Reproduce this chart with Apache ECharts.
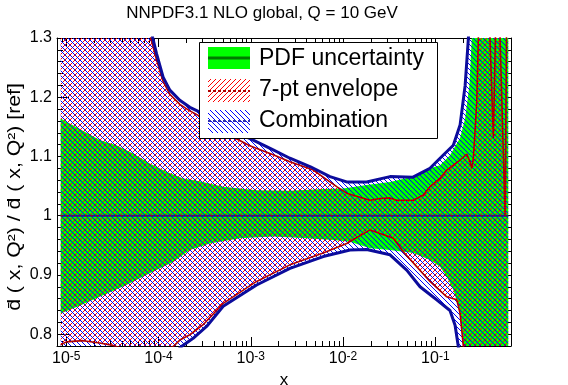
<!DOCTYPE html>
<html>
<head>
<meta charset="utf-8">
<script src="https://cdn.jsdelivr.net/npm/echarts@6/dist/echarts.min.js"></script>
<style>html,body{margin:0;padding:0;background:#fff}#c{width:568px;height:385px}</style>
</head>
<body>
<div id="c"></div>
<script>
// ---- data (x stored as log10(x)) ----
const titleText = 'NNPDF3.1 NLO global, Q = 10 GeV';
const legendLabels = ['PDF uncertainty', '7-pt envelope', 'Combination'];
const xTickExponents = [-5, -4, -3, -2, -1];
const yTickValues = [0.8, 0.9, 1.0, 1.1, 1.2, 1.3];

const pdfUpperX = [-5.06,-4.637,-4.456,-4.275,-4.094,-3.913,-3.733,-3.552,-3.299,-2.937,-2.576,-2.215,-1.998,-1.744,-1.491,-1.239,-1.058,-0.949,-0.841,-0.732,-0.677,-0.631,-0.605,-0.580,-0.21];
const pdfUpperY = [1.164,1.128,1.119,1.105,1.088,1.074,1.063,1.058,1.049,1.043,1.042,1.045,1.046,1.052,1.057,1.066,1.080,1.085,1.102,1.131,1.164,1.220,1.299,1.40,1.60];
const pdfLowerX = [-5.06,-4.854,-4.637,-4.348,-4.094,-3.842,-3.660,-3.443,-3.118,-2.757,-2.395,-2.106,-1.925,-1.708,-1.491,-1.239,-1.058,-0.949,-0.876,-0.805,-0.751,-0.714,-0.696,-0.667,-0.21];
const pdfLowerY = [0.835,0.848,0.863,0.883,0.903,0.922,0.942,0.953,0.962,0.965,0.962,0.959,0.956,0.945,0.942,0.937,0.925,0.914,0.897,0.875,0.847,0.813,0.779,0.70,0.40];

const envUpperX = [-5.06,-4.203,-4.084,-4.030,-3.954,-3.877,-3.769,-3.660,-3.552,-3.281,-3.010,-2.757,-2.576,-2.323,-2.069,-1.961,-1.708,-1.600,-1.491,-1.419,-1.239,-1.130,-1.058,-0.949,-0.876,-0.732,-0.659,-0.624,-0.605,-0.588,-0.551,-0.534,-0.516,-0.412,-0.371,-0.347,-0.304,-0.244,-0.228,-0.21];
const envUpperY = [1.50,1.40,1.30,1.268,1.228,1.205,1.188,1.177,1.168,1.140,1.118,1.103,1.091,1.077,1.049,1.038,1.026,1.029,1.030,1.026,1.026,1.035,1.049,1.063,1.077,1.094,1.104,1.091,1.080,1.097,1.192,1.30,1.38,1.32,1.131,1.32,1.33,1.00,1.32,1.35];
const envLowerX = [-5.06,-4.998,-4.818,-4.637,-4.492,-4.365,-3.986,-3.842,-3.769,-3.660,-3.516,-3.299,-2.937,-2.576,-2.215,-1.961,-1.708,-1.600,-1.456,-1.347,-1.202,-1.058,-0.876,-0.768,-0.732,-0.696,-0.667,-0.21];
const envLowerY = [0.782,0.787,0.789,0.785,0.781,0.774,0.772,0.779,0.790,0.799,0.816,0.852,0.889,0.917,0.937,0.953,0.976,0.970,0.962,0.939,0.914,0.889,0.863,0.858,0.835,0.779,0.70,0.60];

const combUpperX = [-5.06,-4.203,-4.062,-4.022,-3.950,-3.877,-3.769,-3.660,-3.552,-3.281,-2.991,-2.757,-2.576,-2.359,-2.142,-1.961,-1.744,-1.491,-1.242,-1.058,-0.916,-0.805,-0.732,-0.677,-0.642,-0.624,-0.21];
const combUpperY = [1.50,1.42,1.30,1.274,1.234,1.212,1.195,1.183,1.175,1.150,1.129,1.111,1.097,1.083,1.066,1.057,1.057,1.066,1.065,1.080,1.102,1.119,1.153,1.220,1.299,1.35,1.60];
const combLowerX = [-5.06,-3.877,-3.751,-3.625,-3.479,-3.299,-2.937,-2.576,-2.215,-1.925,-1.744,-1.491,-1.310,-1.166,-0.985,-0.841,-0.786,-0.751,-0.710,-0.21];
const combLowerY = [0.60,0.76,0.779,0.793,0.813,0.847,0.883,0.911,0.931,0.942,0.943,0.934,0.908,0.880,0.858,0.840,0.815,0.779,0.70,0.50];

const centralX = [-5.06, -0.21];
const centralY = [1.0, 1.0];

// ---- hatch patterns (1px diagonal lines) ----
function hatch(color, dir, p) {
  const c = document.createElement('canvas');
  c.width = p; c.height = p;
  const g = c.getContext('2d');
  g.fillStyle = color;
  for (let i = 0; i < p; i++) {
    g.fillRect(i, dir === '/' ? p - 1 - i : i, 1, 1);
  }
  return c;
}
const HP = 5;
const redHatch = { image: hatch('#ff0000', '/', HP), repeat: 'repeat' };
const blueHatch = { image: hatch('#0000ff', '\\', HP), repeat: 'repeat' };
const GREEN = '#00ff00';

const zip = (xs, ys) => xs.map((x, i) => [x, ys[i]]);

function bandSeries(name, ux, uy, lx, ly, fill, z) {
  return {
    type: 'custom', name, z, clip: true,
    coordinateSystem: 'cartesian2d',
    data: [[ux[0], uy[0]]],
    silent: true,
    renderItem: function (params, api) {
      const pts = [];
      for (let i = 0; i < ux.length; i++) pts.push(api.coord([ux[i], uy[i]]));
      for (let i = lx.length - 1; i >= 0; i--) pts.push(api.coord([lx[i], ly[i]]));
      return { type: 'polygon', shape: { points: pts }, style: { fill: fill, stroke: null } };
    }
  };
}
function lineSeries(xs, ys, color, width, z, type) {
  return {
    type: 'line', data: zip(xs, ys), showSymbol: false, silent: true, z,
    clip: true, animation: false,
    lineStyle: { color, width, type: type || 'solid' }
  };
}

const xMinor = [];
for (let d = -6; d <= -1; d++) for (let k = 2; k <= 9; k++) {
  const v = d + Math.log10(k);
  if (v > -5.1 && v < -0.18) xMinor.push(v);
}

const XMIN = -5.1, XMAX = -0.18, YMIN = 0.78, YMAX = 1.30;
const axisBase = (pos, opts) => Object.assign({
  type: 'value', position: pos, min: pos === 'left' || pos === 'right' ? YMIN : XMIN,
  max: pos === 'left' || pos === 'right' ? YMAX : XMAX,
  splitLine: { show: false },
  axisLine: { show: true, onZero: false, lineStyle: { color: '#000', width: 1 } },
  axisLabel: { show: false }
}, opts);

const xAxes = [
  axisBase('bottom', {
    name: 'x', nameLocation: 'middle', nameGap: 23,
    nameTextStyle: { fontFamily: 'Liberation Sans', fontSize: 17, color: '#000' },
    axisTick: { inside: true, length: 9, customValues: xTickExponents, lineStyle: { color: '#000' } },
    axisLabel: {
      show: true, customValues: xTickExponents, margin: 5,
      formatter: v => '{b|10}{s|' + v + '}',
      rich: {
        b: { fontFamily: 'Liberation Sans', fontSize: 16, color: '#000', lineHeight: 16, padding: [5, 0, 0, 0], verticalAlign: 'bottom' },
        s: { fontFamily: 'Liberation Sans', fontSize: 12, color: '#000', lineHeight: 12, verticalAlign: 'top' }
      }
    }
  }),
  axisBase('bottom', { axisLine: { show: false, onZero: false }, axisTick: { inside: true, length: 5, customValues: xMinor, lineStyle: { color: '#000' } } }),
  axisBase('top', { axisTick: { inside: true, length: 9, customValues: xTickExponents, lineStyle: { color: '#000' } } }),
  axisBase('top', { axisLine: { show: false, onZero: false }, axisTick: { inside: true, length: 5, customValues: xMinor, lineStyle: { color: '#000' } } })
];
const yAxes = [
  axisBase('left', {
    axisTick: { inside: true, length: 12, customValues: yTickValues, lineStyle: { color: '#000' } },
    axisLabel: {
      show: true, customValues: yTickValues, margin: 5,
      fontFamily: 'Liberation Sans', fontSize: 16, color: '#000',
      formatter: v => (Math.abs(v - 1) < 1e-9 ? '1' : v.toFixed(1))
    }
  }),
  axisBase('left', { interval: 0.02, axisLine: { show: false, onZero: false }, axisTick: { inside: true, length: 6, lineStyle: { color: '#000' } } }),
  axisBase('right', { axisTick: { inside: true, length: 12, customValues: yTickValues, lineStyle: { color: '#000' } } }),
  axisBase('right', { interval: 0.02, axisLine: { show: false, onZero: false }, axisTick: { inside: true, length: 6, lineStyle: { color: '#000' } } })
];

const series = [
  bandSeries(legendLabels[0], pdfUpperX, pdfUpperY, pdfLowerX, pdfLowerY, GREEN, 1),
  bandSeries(legendLabels[1], envUpperX, envUpperY, envLowerX, envLowerY, redHatch, 2),
  bandSeries(legendLabels[2], combUpperX, combUpperY, combLowerX, combLowerY, blueHatch, 3),
  lineSeries(centralX, centralY, '#1c1c96', 2, 4),
  lineSeries(centralX, centralY, '#b00000', 1, 4, [2, 4]),
  lineSeries(envUpperX, envUpperY, '#b00000', 1.6, 5),
  lineSeries(envLowerX, envLowerY, '#b00000', 1.6, 5),
  lineSeries(combUpperX, combUpperY, '#0c0c9c', 3, 6),
  lineSeries(combLowerX, combLowerY, '#0c0c9c', 3, 6)
];

const legendFont = '23px "Liberation Sans"';
const graphic = [
  { type: 'text', x: 262, y: 13, style: { text: titleText, font: '17px "Liberation Sans"', fill: '#000', align: 'center', verticalAlign: 'middle' } },
  { type: 'text', x: 15, y: 197, rotation: Math.PI / 2, scaleX: 1.18, style: { text: 'd\u0304 ( x, Q\u00b2) / d\u0304 ( x, Q\u00b2) [ref]', font: '18px "Liberation Sans"', fill: '#000', align: 'center', verticalAlign: 'middle' } },
  { type: 'rect', z: 100, shape: { x: 199.5, y: 42.5, width: 238, height: 96 }, style: { fill: '#fff', stroke: '#000', lineWidth: 1 } },
  { type: 'rect', z: 101, shape: { x: 208, y: 47, width: 42, height: 22 }, style: { fill: GREEN } },
  { type: 'line', z: 102, shape: { x1: 208, y1: 58, x2: 250, y2: 58 }, style: { stroke: '#007a00', lineWidth: 3 } },
  { type: 'rect', z: 101, shape: { x: 208, y: 79, width: 42, height: 23 }, style: { fill: redHatch } },
  { type: 'line', z: 102, shape: { x1: 208, y1: 91, x2: 250, y2: 91 }, style: { stroke: '#b00000', lineWidth: 2, lineDash: [3, 2] } },
  { type: 'rect', z: 101, shape: { x: 208, y: 110, width: 42, height: 23 }, style: { fill: blueHatch } },
  { type: 'line', z: 102, shape: { x1: 208, y1: 121, x2: 250, y2: 121 }, style: { stroke: '#3030b0', lineWidth: 2, lineDash: [3, 2] } },
  { type: 'text', z: 102, x: 259, y: 59, style: { text: legendLabels[0], font: legendFont, fill: '#000', verticalAlign: 'middle' } },
  { type: 'text', z: 102, x: 259, y: 90, style: { text: legendLabels[1], font: legendFont, fill: '#000', verticalAlign: 'middle' } },
  { type: 'text', z: 102, x: 259, y: 121, style: { text: legendLabels[2], font: legendFont, fill: '#000', verticalAlign: 'middle' } }
];

const chart = echarts.init(document.getElementById('c'), null, { renderer: 'canvas' });
chart.setOption({
  animation: false,
  backgroundColor: '#fff',
  grid: { left: 57, right: 57, top: 38, bottom: 39, containLabel: false, outerBoundsMode: 'none' },
  xAxis: xAxes,
  yAxis: yAxes,
  series: series,
  graphic: graphic
});
</script>
</body>
</html>
